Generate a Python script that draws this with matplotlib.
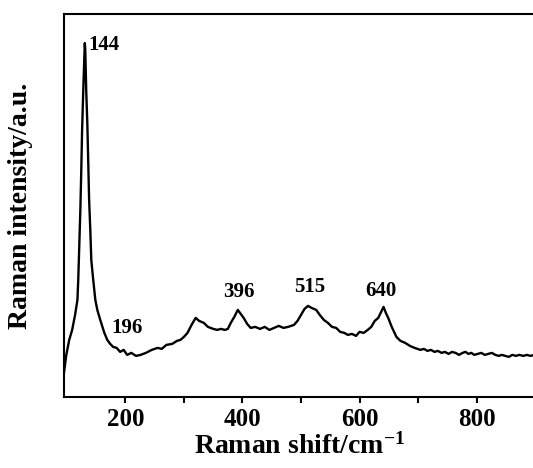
import numpy as np
import matplotlib
matplotlib.use("Agg")
import matplotlib.pyplot as plt

# Raman spectrum (arbitrary units)
raman_shift = [95, 99, 104, 109, 114, 118, 119.4, 121, 123, 124.6, 126, 128, 130, 130.6,
               131.4, 133, 135, 136.6, 138, 140, 141.7, 145, 148.6, 152, 157, 164, 169,
               174, 179, 185, 191, 197, 203, 210, 218, 226, 235, 245, 255, 262, 270, 280,
               288, 294, 300, 306, 313, 320, 326, 334, 341, 350, 357, 363, 370, 375, 380,
               386, 392, 397, 402, 408, 414, 422, 430, 438, 446, 454, 462, 470, 478, 488,
               494, 500, 506, 512, 518, 526, 532, 539, 546, 553, 560, 567, 574, 580, 587,
               594, 600, 607, 614, 620, 626, 632, 637, 641, 645, 649, 655, 663, 670, 678,
               686, 694, 704, 710, 716, 722, 728, 734, 740, 746, 752, 758, 764, 770, 776,
               781, 786, 791, 796, 802, 808, 814, 820, 826, 832, 838, 843, 849, 855, 861,
               867, 873, 880, 886, 892, 899]
intensity = [24, 42, 57, 67, 82, 97, 117, 147, 187, 227, 267, 307, 342, 354,
             347, 307, 272, 232, 197, 167, 137, 117, 97, 87, 77, 64, 57,
             53, 50, 49, 45, 47, 42, 44, 41, 42, 44, 47, 49, 48, 52, 53,
             56, 57, 60, 64, 72, 79, 76, 74, 70, 68, 67, 68, 67, 68, 74,
             80, 87, 83, 79, 73, 69, 70, 68, 70, 67, 69, 71, 69, 70, 72,
             76, 82, 88, 91, 89, 87, 82, 77, 74, 70, 69, 65, 64, 62, 63,
             61, 65, 64, 67, 70, 76, 79, 85, 90, 84, 79, 70, 60, 56, 54,
             51, 49, 47, 48, 46, 47, 45, 46, 44, 45, 43, 45, 44, 42, 44,
             45, 43, 44, 42, 43, 44, 42, 43, 44, 42, 41, 42, 41, 40, 42,
             41, 42, 41, 42, 41, 42]

peak_labels = ["144", "196", "396", "515", "640"]
label_x = [137, 203, 394, 514, 637]
label_y = [352, 69, 105, 110, 106]

plt.rcParams['font.family'] = ['Liberation Serif', 'DejaVu Serif']
plt.rcParams['font.weight'] = 'bold'
plt.rcParams['mathtext.fontset'] = 'custom'
plt.rcParams['mathtext.rm'] = 'Liberation Serif:bold'
plt.rcParams['mathtext.default'] = 'rm'

fig = plt.figure(figsize=(5.33, 4.68), dpi=100)
ax = fig.add_axes([0.120, 0.152, 0.884, 0.818])

ax.plot(raman_shift, intensity, color='black', lw=1.7)

for i, lab in enumerate(peak_labels):
    ha = 'left' if i == 0 else 'center'
    ax.text(label_x[i], label_y[i], lab, ha=ha, va='center', fontsize=15,
            fontweight='bold')

ax.set_xlim(95, 900)
ax.set_ylim(0, 383)
ax.set_xticks([200, 400, 600, 800])
ax.set_xticks([300, 500, 700], minor=True)
ax.set_yticks([])
ax.tick_params(axis='x', which='both', direction='out', length=4, width=1.5,
               labelsize=18, pad=4)
for lbl in ax.get_xticklabels():
    lbl.set_fontweight('bold')
for sp in ax.spines.values():
    sp.set_linewidth(1.5)

ax.set_xlabel('Raman shift/cm$^{-1}$', fontsize=20, fontweight='bold')
ax.set_ylabel('Raman intensity/a.u.', fontsize=20, fontweight='bold')
ax.xaxis.set_label_coords(0.5, -0.128)
ax.xaxis.label.set_va('center')
ax.yaxis.set_label_coords(-0.093, 0.5)
ax.yaxis.label.set_va('center')

fig.savefig('out.png', dpi=100)
